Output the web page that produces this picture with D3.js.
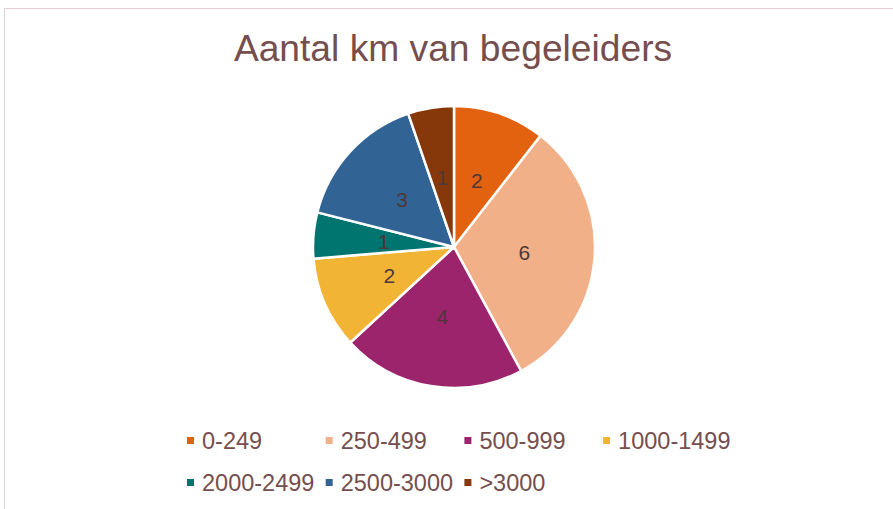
<!doctype html>
<html lang="nl">
<head>
    <meta charset="UTF-8">
    <title>Aantal km van begeleiders</title>
    <script src="https://d3js.org/d3.v7.min.js"></script>
    <style>
        body { margin: 0; background: #fff; }
        svg { display: block; font-family: "Liberation Sans", Arial, sans-serif; }
    </style>
</head>
<body>
<div id="chart"></div>
<script>
    // data
    const categories = ["0-249", "250-499", "500-999", "1000-1499", "2000-2499", "2500-3000", ">3000"];
    const values = [2, 6, 4, 2, 1, 3, 1];
    const colors = ["#E36210", "#F1B088", "#9B246C", "#F1B434", "#00746F", "#316395", "#86380A"];
    const title = "Aantal km van begeleiders";

    const width = 893, height = 509;
    const cx = 454, cy = 247, radius = 141;

    let svg = d3.select("#chart").append("svg")
        .attr("width", width)
        .attr("height", height);

    // chart area border (only top and left visible)
    svg.append("rect")
        .attr("x", 4.5).attr("y", 8.5)
        .attr("width", width + 10).attr("height", height + 10)
        .attr("fill", "#fff")
        .attr("stroke", "#E2CFD2")
        .attr("stroke-width", 1);

    svg.append("text")
        .attr("x", 453).attr("y", 61)
        .attr("text-anchor", "middle")
        .attr("font-size", 37.2)
        .attr("fill", "#764E4D")
        .text(title);

    let pie = d3.pie()
        .sort(null)
        .value(function (d) { return d; });

    let arc = d3.arc()
        .innerRadius(0)
        .outerRadius(radius);

    let labelArc = d3.arc()
        .innerRadius(radius * 0.5)
        .outerRadius(radius * 0.5);

    let g = svg.append("g")
        .attr("transform", "translate(" + cx + "," + cy + ")");

    let slices = g.selectAll(".arc")
        .data(pie(values))
        .enter()
        .append("g")
        .attr("class", "arc");

    slices.append("path")
        .attr("d", arc)
        .attr("fill", function (d, i) { return colors[i]; })
        .attr("stroke", "#fff")
        .attr("stroke-width", 2.5)
        .attr("stroke-linejoin", "round");

    slices.append("text")
        .attr("transform", function (d) {
            let c = labelArc.centroid(d);
            return "translate(" + c[0] + "," + c[1] + ")";
        })
        .attr("text-anchor", "middle")
        .attr("dy", "0.35em")
        .attr("font-size", 21)
        .attr("fill", "#4E3838")
        .text(function (d) { return d.data; });

    // legend: 4 equal columns, 2 rows
    const colStep = 138.7;
    let legend = svg.append("g").selectAll("g")
        .data(categories)
        .enter()
        .append("g")
        .attr("transform", function (d, i) {
            let col = i % 4, row = Math.floor(i / 4);
            return "translate(" + (187 + col * colStep) + "," + (441 + row * 42) + ")";
        });

    legend.append("rect")
        .attr("x", 0).attr("y", -4)
        .attr("width", 7).attr("height", 7)
        .attr("fill", function (d, i) { return colors[i]; });

    legend.append("text")
        .attr("x", 15)
        .attr("dy", "0.35em")
        .attr("font-size", 23.5)
        .attr("fill", "#764E4D")
        .text(function (d) { return d; });
</script>
</body>
</html>
